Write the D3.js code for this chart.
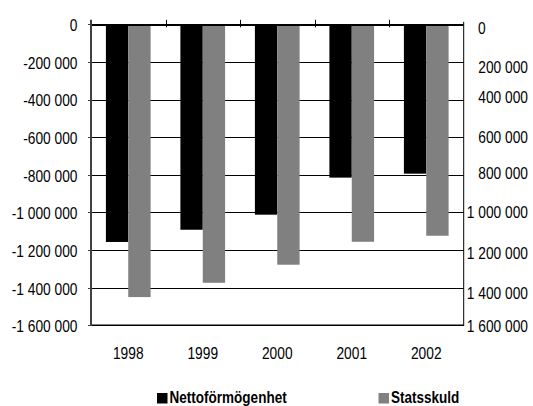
<!DOCTYPE html>
<html>
<head>
<meta charset="utf-8">
<script src="https://cdn.jsdelivr.net/npm/d3@7"></script>
<style>
  html, body { margin: 0; padding: 0; background: #fff; }
  svg { display: block; }
  text { font-family: "Liberation Sans", Arial, sans-serif; fill: #000; }
</style>
</head>
<body>
<svg id="chart" width="533" height="406"></svg>
<script>
// Years on the category axis
const years = ["1998", "1999", "2000", "2001", "2002"];
// Series (SEK million, negative = liability)
const seriesNames = ["Nettoförmögenhet", "Statsskuld"];
const nettoformogenhet = [-1157000, -1092000, -1012000, -815000, -794000];
const statsskuld = [-1450000, -1374000, -1278000, -1156000, -1124000];
// Axis ticks
const leftTicks = [0, -200000, -400000, -600000, -800000, -1000000, -1200000, -1400000, -1600000];
const leftTickLabels = ["0", "-200 000", "-400 000", "-600 000", "-800 000", "-1 000 000", "-1 200 000", "-1 400 000", "-1 600 000"];
const rightTickLabels = ["0", "200 000", "400 000", "600 000", "800 000", "1 000 000", "1 200 000", "1 400 000", "1 600 000"];

const colors = ["#000000", "#808080"];
const seriesValues = [nettoformogenhet, statsskuld];

const svg = d3.select("#chart");
const plot = { left: 91, right: 463.5, top: 24.3, bottom: 325.3 };

const y = d3.scaleLinear().domain([0, -1600000]).range([plot.top, plot.bottom]);
const x = d3.scaleBand().domain(years).range([plot.left, plot.right]).padding(0);
const bw = x.bandwidth();
const inner = d3.scaleBand().domain(seriesNames).range([bw * 0.2, bw * 0.8]).padding(0);

// Place condensed text: position via translate, squeeze horizontally via scale
function place(sel, fx, fy, squeeze) {
  sel.attr("x", 0).attr("y", 0)
     .attr("transform", (d, i) => `translate(${fx(d, i)},${fy(d, i)}) scale(${squeeze},1)`);
}

// Horizontal gridlines
svg.append("g")
  .selectAll("line")
  .data(leftTicks.slice(1))
  .join("line")
  .attr("x1", plot.left).attr("x2", plot.right)
  .attr("y1", d => Math.round(y(d)) + 0.5).attr("y2", d => Math.round(y(d)) + 0.5)
  .attr("stroke", "#000").attr("stroke-width", 1.2);

// Bars
const rows = years.map((yr, i) => ({ year: yr, values: seriesNames.map((s, j) => ({ key: s, value: seriesValues[j][i], color: colors[j] })) }));
svg.append("g")
  .selectAll("g")
  .data(rows)
  .join("g")
  .attr("transform", d => `translate(${x(d.year)},0)`)
  .selectAll("rect")
  .data(d => d.values)
  .join("rect")
  .attr("x", d => inner(d.key))
  .attr("width", inner.bandwidth())
  .attr("y", y(0))
  .attr("height", d => y(d.value) - y(0))
  .attr("fill", d => d.color);

// Zero line with category tick marks
svg.append("line")
  .attr("x1", plot.left).attr("x2", plot.right)
  .attr("y1", plot.top + 0.7).attr("y2", plot.top + 0.7)
  .attr("stroke", "#000").attr("stroke-width", 2);
svg.append("g")
  .selectAll("line")
  .data(years.slice(1))
  .join("line")
  .attr("x1", d => Math.round(x(d)) + 0.5).attr("x2", d => Math.round(x(d)) + 0.5)
  .attr("y1", plot.top - 4.5).attr("y2", plot.top + 3)
  .attr("stroke", "#000").attr("stroke-width", 1);

// Bottom line
svg.append("line")
  .attr("x1", plot.left).attr("x2", plot.right)
  .attr("y1", plot.bottom).attr("y2", plot.bottom)
  .attr("stroke", "#000").attr("stroke-width", 1.5);

// Left value axis
svg.append("line")
  .attr("x1", plot.left).attr("x2", plot.left)
  .attr("y1", plot.top - 4.5).attr("y2", plot.bottom + 0.8)
  .attr("stroke", "#404040").attr("stroke-width", 2);
svg.append("g")
  .selectAll("line")
  .data(leftTicks)
  .join("line")
  .attr("x1", plot.left - 3).attr("x2", plot.left)
  .attr("y1", d => Math.round(y(d)) + 0.5).attr("y2", d => Math.round(y(d)) + 0.5)
  .attr("stroke", "#404040").attr("stroke-width", 1);
svg.append("g")
  .selectAll("text")
  .data(leftTicks)
  .join("text")
  .attr("text-anchor", "end")
  .attr("dominant-baseline", "central")
  .style("font-size", "16px")
  .call(place, () => 77.5, d => y(d) + 1, 0.86)
  .text((d, i) => leftTickLabels[i]);

// Right axis line
svg.append("line")
  .attr("x1", plot.right + 0.2).attr("x2", plot.right + 0.2)
  .attr("y1", plot.top - 2.5).attr("y2", plot.bottom + 0.8)
  .attr("stroke", "#000").attr("stroke-width", 1);

// Right-hand labels (hand-set nudges for each label)
const rightNudge = [4, 4.7, -2.3, 0, -1.7, 0, 2.7, 5, 0.7];
svg.append("g")
  .selectAll("text")
  .data(leftTicks)
  .join("text")
  .attr("text-anchor", (d, i) => i === 0 ? "start" : "end")
  .attr("dominant-baseline", "central")
  .style("font-size", "16px")
  .call(place, (d, i) => i === 0 ? 478 : 528, (d, i) => y(d) + rightNudge[i], 0.86)
  .text((d, i) => rightTickLabels[i]);

// Year labels
svg.append("g")
  .selectAll("text")
  .data(years)
  .join("text")
  .attr("text-anchor", "middle")
  .attr("dominant-baseline", "central")
  .style("font-size", "16px")
  .call(place, d => x(d) + bw / 2, () => 353.5, 0.86)
  .text(d => d);

// Legend
const legendX = [157, 378.5];
const legend = svg.append("g")
  .selectAll("g")
  .data(seriesNames)
  .join("g")
  .attr("transform", (d, i) => `translate(${legendX[i]},393)`);
legend.append("rect")
  .attr("width", 10.5).attr("height", 10.5)
  .attr("fill", (d, i) => colors[i]);
legend.append("text")
  .style("font-size", "16.5px")
  .style("font-weight", "bold")
  .call(place, () => 12.5, () => 10, 0.82)
  .text(d => d);
</script>
</body>
</html>
